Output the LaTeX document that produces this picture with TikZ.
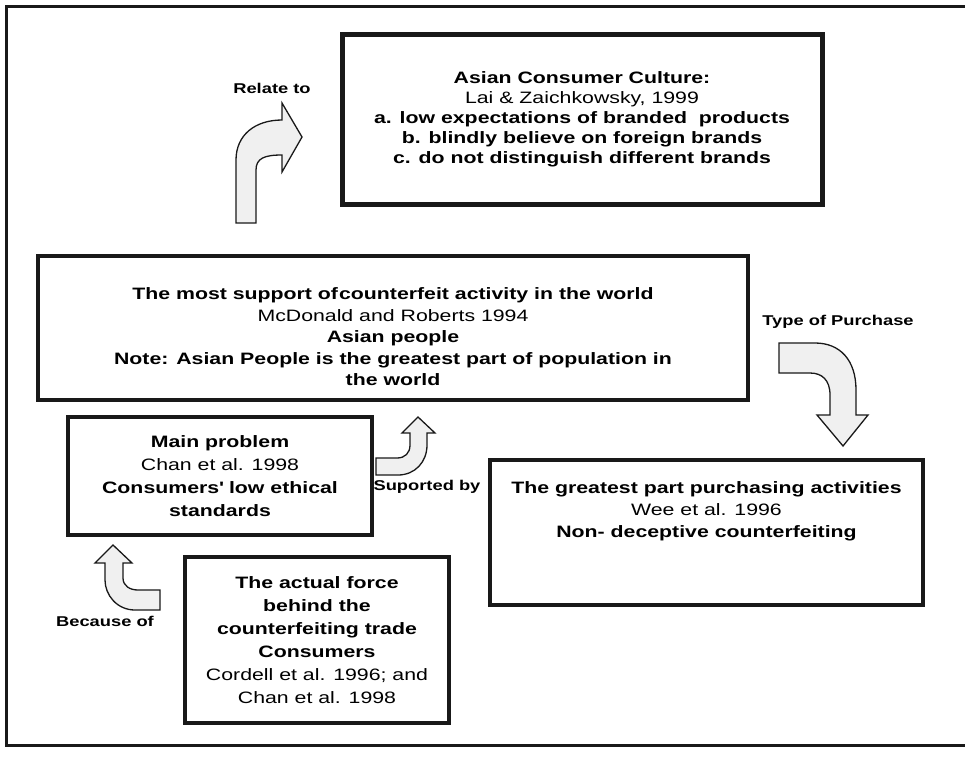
\documentclass[tikz,border=0pt]{standalone}
\usepackage{fontspec}
\setmainfont{Liberation Sans}[FakeStretch=1.29]
\usetikzlibrary{positioning}
\newcommand{\boxfont}{\fontsize{16.5}{22.5}\selectfont}
\newcommand{\tagfont}{\bfseries\fontsize{14.2}{17}\selectfont}
\tikzset{
	box/.style={draw=black!90, line width=3.4pt, inner sep=0pt},
	boxtext/.style={align=center, inner sep=0pt, font=\boxfont},
	bentarrow/.style={draw=black!90, fill=black!6, line width=1.3pt, line join=miter},
	tag/.style={font=\tagfont, inner sep=0pt}
}

\begin{document}
\begin{tikzpicture}[x=1pt, y=-1pt]
		%%%%% START %%%%%
		\useasboundingbox (0,0) rectangle (965,758);
		
		\draw[line width=3pt, black!90] (975,6) -- (6,6) -- (6,745) -- (975,745);
		
		% boxes
		\node[box, line width=5pt, minimum width=480, minimum height=170] (culture) at (582,119) {};
		\node[box, minimum width=710, minimum height=144] (support) at (393,328) {};
		\node[box, minimum width=304, minimum height=118] (problem) at (220,476) {};
		\node[box, minimum width=433, minimum height=145] (purchase) at (706.5,532.5) {};
		\node[box, minimum width=264, minimum height=166] (force) at (317,640) {};
		
		% texts
		\node[boxtext, font=\fontsize{16.5}{20}\selectfont] (culturetext) at (culture.center)
			{\textbf{Asian Consumer Culture:}\\ Lai \& Zaichkowsky, 1999\\ \textbf{a. low expectations of branded\ \ products}\\ \textbf{b. blindly believe on foreign brands}\\ \textbf{c. do not distinguish different brands}};
		\node[boxtext, font=\fontsize{16.5}{21.5}\selectfont] (supporttext) at ([yshift=-9]support.center)
			{\textbf{The most support of\hspace{1pt}counterfeit activity in the world}\\ McDonald and Roberts 1994\\ \textbf{Asian people}\\ \textbf{Note: Asian People is the greatest part of population in}\\ \textbf{the world}};
		\node[boxtext, font=\fontsize{16.5}{23}\selectfont] (problemtext) at (problem.center)
			{\textbf{Main problem}\\ Chan et al. 1998\\ \textbf{Consumers\textquotesingle\ low ethical}\\ \textbf{standards}};
		\node[boxtext, font=\fontsize{16.5}{22}\selectfont] (purchasetext) at ([yshift=21]purchase.center)
			{\textbf{The greatest part purchasing activities}\\ Wee et al. 1996\\ \textbf{Non- deceptive counterfeiting}};
		\node[boxtext, font=\fontsize{16.5}{23}\selectfont] (forcetext) at (force.center)
			{\textbf{The actual force}\\ \textbf{behind the}\\ \textbf{counterfeiting trade}\\ \textbf{Consumers}\\ Cordell et al. 1996; and\\ Chan et al. 1998};
		
		% bent arrows
		\draw[bentarrow] (236,223) -- (236,160) .. controls (236,135) and (255,120) .. (282,120) -- (282,103) -- (302,137) -- (282,172) -- (282,155) .. controls (265,155) and (256,158) .. (256,170) -- (256,223) -- cycle;
		\draw[bentarrow] (779,343) -- (815,343) .. controls (840,343) and (856,360) .. (856,390) -- (856,415) -- (868,415) -- (843,446) -- (817,415) -- (830,415) -- (830,395) .. controls (830,380) and (822,373) .. (810,373) -- (779,373) -- cycle;
		\draw[bentarrow] (376,475) -- (398,475) .. controls (415,475) and (427,462) .. (427,445) -- (427,433) -- (435,433) -- (418,417) -- (402,433) -- (410,433) -- (410,445) .. controls (410,453) and (405,458) .. (397,458) -- (376,458) -- cycle;
		\draw[bentarrow] (160,610) -- (135,610) .. controls (117,610) and (105,595) .. (105,580) -- (105,563) -- (95,563) -- (113,545) -- (132,563) -- (123,563) -- (123,578) .. controls (123,586) and (130,590) .. (138,590) -- (160,590) -- cycle;
		
		\node[tag] (relate) at (272,88) {Relate to};
		\node[tag] (type) at (838,322) {Type of Purchase};
		\node[tag] (suported) at (427,487) {Suported by};
		\node[tag] (because) at (105,621) {Because of};
		%%%%% END %%%%%
\end{tikzpicture}
\end{document}
